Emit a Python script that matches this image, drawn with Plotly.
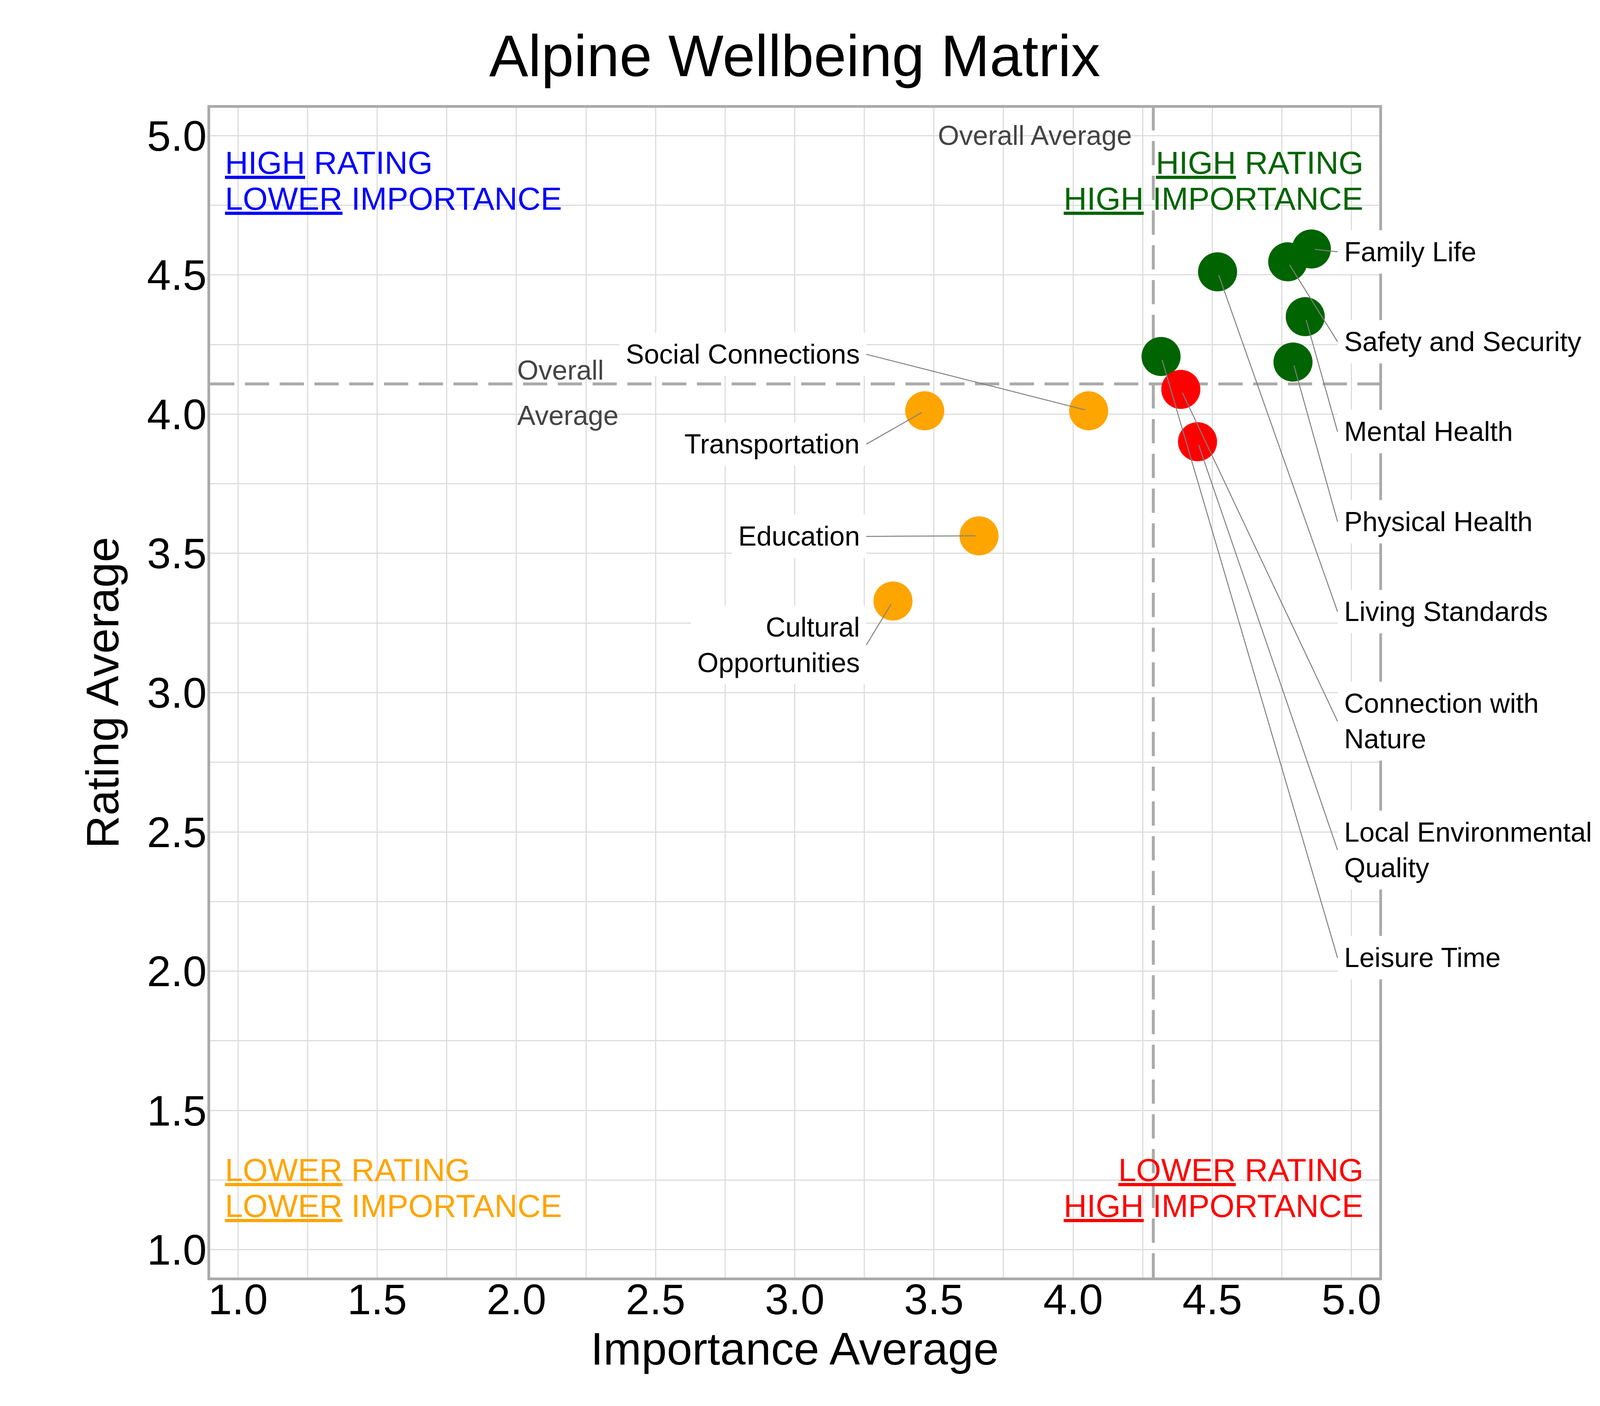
import plotly.graph_objects as go

# values
categories = [
    "Family Life", "Safety and Security", "Mental Health", "Physical Health",
    "Living Standards", "Leisure Time", "Connection with Nature",
    "Local Environmental Quality", "Social Connections", "Transportation",
    "Education", "Cultural Opportunities",
]
importance = [4.856, 4.771, 4.834, 4.790, 4.519, 4.316, 4.387, 4.447, 4.056, 3.467, 3.662, 3.353]
rating = [4.593, 4.547, 4.350, 4.187, 4.511, 4.207, 4.089, 3.901, 4.012, 4.012, 3.563, 3.329]

# how long labels are wrapped
wrapped = {
    "Connection with Nature": "Connection with<br>Nature",
    "Local Environmental Quality": "Local Environmental<br>Quality",
    "Cultural Opportunities": "Cultural<br>Opportunities",
}

# where each label sits (layout only)
label_side = ["right"] * 8 + ["left"] * 4
label_y = [4.583, 4.260, 3.937, 3.614, 3.291, 2.048, 2.897, 2.435, 4.215, 3.892, 3.561, 3.171]

quadrants = [
    # (line texts, colour, x, xanchor, y of each line)
    (["<u>HIGH</u> RATING", "<u>LOWER</u> IMPORTANCE"], "blue", 0.95, "left", [4.903, 4.774]),
    (["<u>HIGH</u> RATING", "<u>HIGH</u> IMPORTANCE"], "darkgreen", 5.045, "right", [4.903, 4.774]),
    (["<u>LOWER</u> RATING", "<u>LOWER</u> IMPORTANCE"], "orange", 0.95, "left", [1.287, 1.158]),
    (["<u>LOWER</u> RATING", "<u>HIGH</u> IMPORTANCE"], "red", 5.045, "right", [1.287, 1.158]),
]

avg_imp = sum(importance) / len(importance)
avg_rat = sum(rating) / len(rating)

colors = []
for imp, rat in zip(importance, rating):
    if imp >= avg_imp and rat >= avg_rat:
        colors.append("darkgreen")
    elif imp >= avg_imp:
        colors.append("red")
    elif rat >= avg_rat:
        colors.append("blue")
    else:
        colors.append("orange")

FONT = "Liberation Sans, Arial, sans-serif"

fig = go.Figure()
fig.add_trace(go.Scatter(
    x=importance, y=rating, mode="markers",
    marker=dict(size=100, color=colors, line=dict(width=0)),
    hovertext=categories, hoverinfo="text", showlegend=False,
))

dash = "62px,27px"
fig.add_shape(type="line", xref="x", yref="paper", x0=avg_imp, x1=avg_imp, y0=0, y1=1,
              line=dict(color="#aaaaaa", width=7.5, dash=dash), layer="below")
fig.add_shape(type="line", xref="paper", yref="y", x0=0, x1=1, y0=avg_rat, y1=avg_rat,
              line=dict(color="#aaaaaa", width=7.5, dash=dash), layer="below")

annotations = []
# point labels with leader lines
for name, imp, rat, side, ly in zip(categories, importance, rating, label_side, label_y):
    annotations.append(dict(
        x=imp, y=rat, xref="x", yref="y",
        ax=4.95 if side == "right" else 3.257, ay=ly, axref="x", ayref="y",
        text=wrapped.get(name, name), showarrow=True, arrowhead=0,
        arrowwidth=2.5, arrowcolor="grey", standoff=9,
        xanchor="left" if side == "right" else "right", yanchor="middle",
        align="left" if side == "right" else "right",
        bgcolor="white", borderpad=16,
        font=dict(family=FONT, size=70, color="black"),
    ))

# average line captions
annotations.append(dict(x=avg_imp, y=5.0, xref="x", yref="y", text="Overall Average",
                        showarrow=False, xanchor="right", yanchor="middle", xshift=-52,
                        font=dict(family=FONT, size=70, color="#444444")))
annotations.append(dict(x=2.0, y=avg_rat, xref="x", yref="y", text="Overall",
                        showarrow=False, xanchor="left", yanchor="middle", yshift=35,
                        font=dict(family=FONT, size=70, color="#444444")))
annotations.append(dict(x=2.0, y=avg_rat, xref="x", yref="y", text="Average",
                        showarrow=False, xanchor="left", yanchor="middle", yshift=-81,
                        font=dict(family=FONT, size=70, color="#444444")))

# quadrant captions
for lines, col, qx, anchor, ys in quadrants:
    for txt, qy in zip(lines, ys):
        annotations.append(dict(x=qx, y=qy, xref="x", yref="y", text=txt, showarrow=False,
                                xanchor=anchor, yanchor="middle",
                                font=dict(family=FONT, size=82, color=col)))

axis_style = dict(
    range=[0.9, 5.1], dtick=0.5, tick0=1, tickformat=".1f",
    showgrid=True, gridcolor="#dddddd", gridwidth=2.5,
    minor=dict(dtick=0.25, showgrid=True, gridcolor="#dddddd", gridwidth=2.5),
    showline=True, linecolor="#aaaaaa", linewidth=6.5, mirror=True,
    zeroline=False, ticks="",
    tickfont=dict(family=FONT, size=110, color="black"),
)

fig.update_layout(
    width=4200, height=3600,
    margin=dict(l=530, r=677, t=268, b=337),
    paper_bgcolor="white", plot_bgcolor="white",
    font=dict(family=FONT, color="black"),
    title=dict(text="Alpine Wellbeing Matrix", x=0.5, xref="paper", xanchor="center",
               y=1 - 134 / 3600, yref="container", yanchor="middle",
               font=dict(family=FONT, size=150, color="black")),
    xaxis=dict(axis_style, ticklabelstandoff=-45,
               title=dict(text="Importance Average", standoff=16,
                          font=dict(family=FONT, size=117, color="black"))),
    yaxis=dict(axis_style, ticklabelstandoff=-20,
               title=dict(text="Rating Average", standoff=36,
                          font=dict(family=FONT, size=117, color="black"))),
    annotations=annotations,
)

fig.write_html("out.html")
